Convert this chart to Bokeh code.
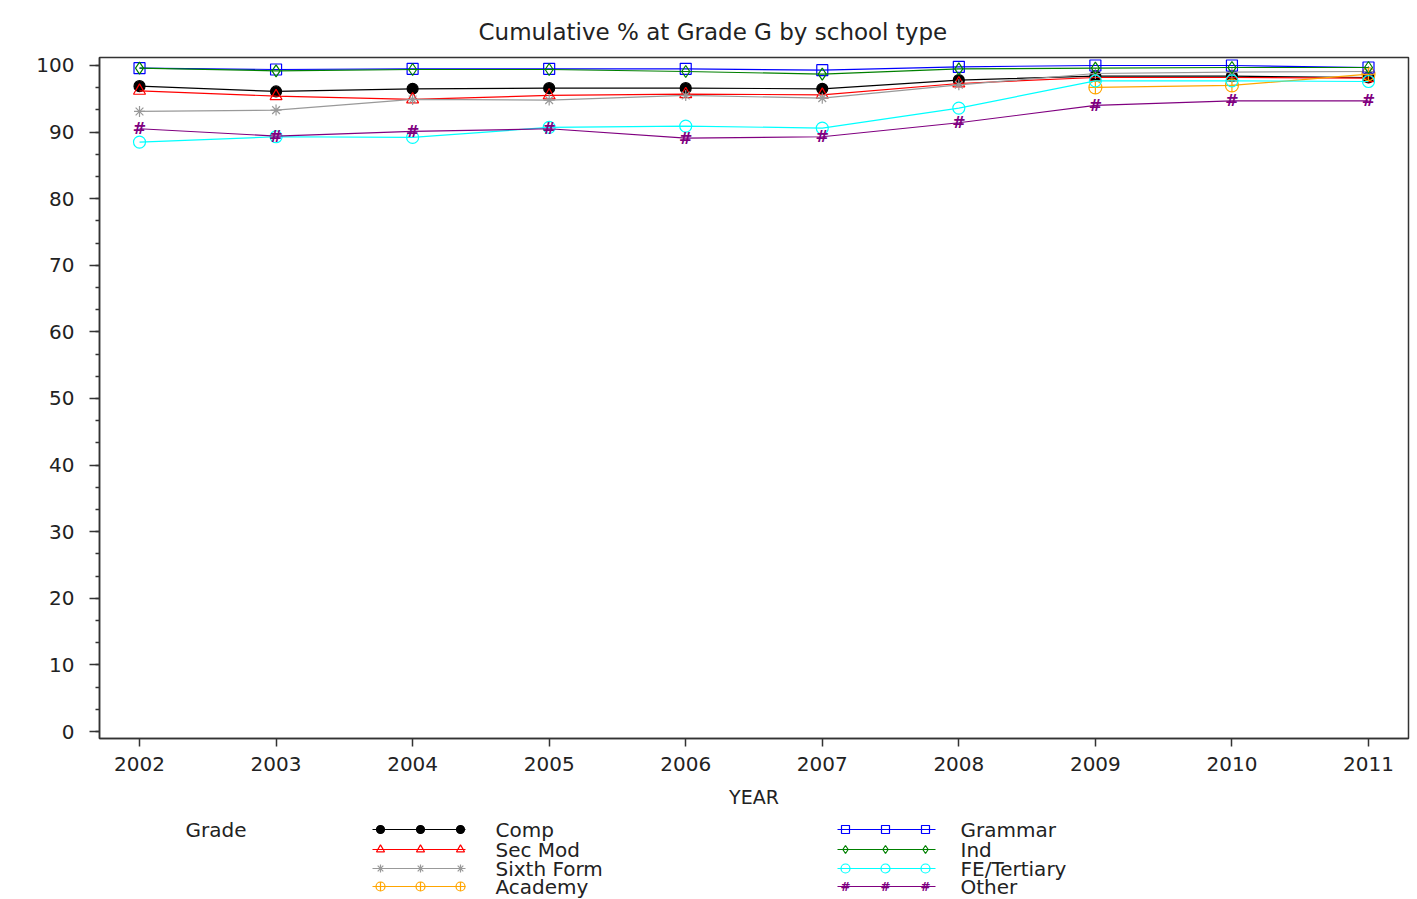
import numpy as np
from bokeh.plotting import figure
from bokeh.models import Range1d, FixedTicker, SingleIntervalTicker, ColumnDataSource
from bokeh.layouts import column
from bokeh.core.properties import value
from bokeh.embed import file_html
from bokeh.resources import INLINE

# ---------------- data ----------------
years = [2002, 2003, 2004, 2005, 2006, 2007, 2008, 2009, 2010, 2011]
comp = [96.9, 96.1, 96.5, 96.6, 96.6, 96.5, 97.8, 98.4, 98.4, 98.2]
sec_mod = [96.2, 95.4, 94.9, 95.5, 95.7, 95.6, 97.3, 98.2, 98.2, 98.1]
sixth_form = [93.1, 93.3, 94.9, 94.8, 95.5, 95.1, 97.1, 98.8, 99.0, 99.1]
academy = [None, None, None, None, None, None, None, 96.7, 97.0, 98.7]
grammar = [99.6, 99.4, 99.5, 99.5, 99.5, 99.3, 99.8, 100.0, 100.0, 99.7]
ind = [99.6, 99.2, 99.4, 99.4, 99.1, 98.7, 99.5, 99.6, 99.7, 99.7]
fe_tertiary = [88.5, 89.3, 89.2, 90.7, 90.9, 90.6, 93.6, 97.7, 97.7, 97.6]
other = [90.5, 89.4, 90.1, 90.5, 89.1, 89.3, 91.4, 94.0, 94.7, 94.7]

series_names = ["Comp", "Sec Mod", "Sixth Form", "Academy",
                "Grammar", "Ind", "FE/Tertiary", "Other"]
series_values = [comp, sec_mod, sixth_form, academy, grammar, ind, fe_tertiary, other]
series_colors = ["#000000", "#ff0000", "#999999", "#ffa500",
                 "#0000ff", "#008000", "#00ffff", "#800080"]
series_markers = ["circle", "triangle", "asterisk", "circle_cross",
                  "square", "diamond", "circle", "hash"]
series_filled = [True, False, False, False, False, False, False, False]
marker_sizes = [11, 12, 11, 13, 11, 12, 12, 12]
legend_marker_sizes = [8, 8, 8, 9, 8, 8, 9, 9]

title_text = "Cumulative % at Grade G by school type"
x_label = "YEAR"
legend_title = "Grade"

FONT = value("DejaVu Sans")
TXT = "#222222"

# ---------------- main plot ----------------
p = figure(width=1410, height=815,
           x_range=Range1d(2001.707, 2011.293), y_range=Range1d(-1.05, 101.2),
           output_backend="svg", toolbar_location=None,
           min_border_left=99, min_border_right=2, min_border_top=57, min_border_bottom=77)
p.xgrid.visible = False
p.ygrid.visible = False
p.outline_line_color = "#333333"
p.outline_line_width = 1.5
p.background_fill_color = "white"
p.border_fill_color = "white"

p.title.text = title_text
p.title.align = "left"
p.title.offset = 379
p.title.standoff = 22
p.title.vertical_align = "top"
p.title.text_font = "DejaVu Sans"
p.title.text_font_size = "23px"
p.title.text_font_style = "normal"
p.title.text_color = TXT

p.xaxis.ticker = FixedTicker(ticks=years)
p.xaxis.major_tick_out = 8
p.xaxis.major_tick_in = 0
p.xaxis.minor_tick_out = 0
p.xaxis.minor_tick_in = 0
p.xaxis.major_label_standoff = 10
p.xaxis.axis_label = x_label
p.xaxis.axis_label_standoff = 12
p.xaxis.axis_label_text_font_style = "normal"
p.xaxis.axis_label_text_font_size = "19px"

p.yaxis.ticker = SingleIntervalTicker(interval=10, num_minor_ticks=3)
p.yaxis.major_tick_out = 10
p.yaxis.major_tick_in = 0
p.yaxis.minor_tick_out = 4
p.yaxis.minor_tick_in = 0
p.yaxis.major_label_standoff = 15

for ax in (p.xaxis, p.yaxis):
    ax.axis_line_color = "#333333"
    ax.axis_line_width = 1.5
    ax.major_tick_line_color = "#333333"
    ax.major_tick_line_width = 1.5
    ax.minor_tick_line_color = "#333333"
    ax.minor_tick_line_width = 1.5
    ax.major_label_text_font = "DejaVu Sans"
    ax.major_label_text_font_size = "20px"
    ax.major_label_text_color = TXT
    ax.axis_label_text_font = "DejaVu Sans"
    ax.axis_label_text_color = TXT

for name, vals, col, mk, filled, ms in zip(series_names, series_values, series_colors,
                                           series_markers, series_filled, marker_sizes):
    y = np.array([np.nan if v is None else v for v in vals], dtype=float)
    src = ColumnDataSource(dict(x=years, y=y))
    p.line("x", "y", source=src, line_color=col, line_width=1.2)
    if mk == "hash":
        p.text("x", "y", text=value("#"), source=src, text_color=col,
               text_font=FONT, text_font_size="16px", text_font_style="bold",
               text_align="center", text_baseline="middle")
    else:
        p.scatter("x", "y", source=src, marker=mk, size=ms, line_color=col,
                  line_width=1.2, fill_color=col if filled else None)

# ---------------- legend panel ----------------
# the column layout aligns this panel's frame with the main frame (page x 99..1408),
# so its x range is expressed in page pixels over that span
LW, LH = 1410, 84
leg = figure(width=LW, height=LH, x_range=Range1d(99, 1408), y_range=Range1d(LH, 0),
             output_backend="svg", toolbar_location=None,
             x_axis_location=None, y_axis_location=None,
             min_border=0, min_border_left=0, min_border_right=0,
             min_border_top=0, min_border_bottom=0, title=None)
leg.xgrid.visible = False
leg.ygrid.visible = False
leg.outline_line_color = None

row_y = [14, 34, 53, 71]
col_line = [(372, 465), (837, 935)]
col_marks = [[380, 420, 460], [845, 885, 925]]
col_text = [495, 960]

leg.text([185], [row_y[0]], text=[legend_title], text_font=FONT, text_font_size="20px",
         text_color=TXT, text_align="left", text_baseline="middle")

for i, (name, col, mk, filled, ms) in enumerate(zip(series_names, series_colors, series_markers,
                                                    series_filled, legend_marker_sizes)):
    c = i // 4
    r = i % 4
    yy = row_y[r]
    x0, x1 = col_line[c]
    leg.line([x0, x1], [yy, yy], line_color=col, line_width=1.2)
    xs = col_marks[c]
    if mk == "hash":
        leg.text(xs, [yy] * 3, text=value("#"), text_color=col, text_font=FONT,
                 text_font_size="12px", text_font_style="bold",
                 text_align="center", text_baseline="middle")
    else:
        leg.scatter(xs, [yy] * 3, marker=mk, size=ms, line_color=col, line_width=1.2,
                    fill_color=col if filled else None)
    leg.text([col_text[c]], [yy], text=[name], text_font=FONT, text_font_size="20px",
             text_color=TXT, text_align="left", text_baseline="middle")

layout = column(p, leg, spacing=0)
open("out.html", "w").write(file_html(layout, INLINE))
